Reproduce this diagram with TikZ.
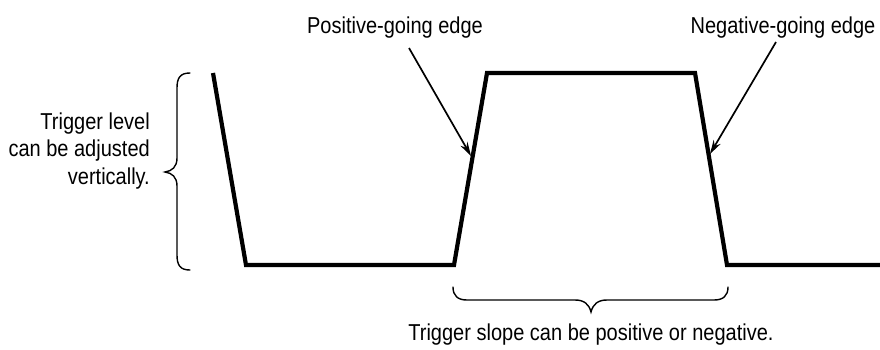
\documentclass[tikz,border=0pt]{standalone}
\usepackage{fontspec}
\setmainfont[FakeStretch=0.87]{Liberation Sans}
\usetikzlibrary{arrows.meta}
\begin{document}
\begin{tikzpicture}[x=1pt,y=-1pt,
  wave/.style={line width=4.2pt,line join=miter,line cap=butt},
  pointer/.style={line width=1.7pt,-{Stealth[length=14pt,width=8pt]}},
  bracepath/.style={line width=1.4pt,line cap=round},
  lbl/.style={inner sep=0pt,font=\fontsize{23}{27.5}\selectfont}]
\useasboundingbox (0,0) rectangle (880,349);
% waveform
\coordinate (w1) at (213,73);
\coordinate (w2) at (246,265);
\coordinate (w3) at (454,265);
\coordinate (w4) at (487,73);
\coordinate (w5) at (695,73);
\coordinate (w6) at (727,265);
\coordinate (w7) at (880,265);
\draw[wave] (w1) -- (w2) -- (w3) -- (w4) -- (w5) -- (w6) -- (w7);
% labels
\node[lbl,anchor=base] (pos) at (395,33) {Positive-going edge};
\node[lbl,anchor=base] (neg) at (783,33) {Negative-going edge};
\node[lbl,anchor=base east,align=right] (lev) at (150,184) {Trigger level\\can be adjusted\\vertically.};
\node[lbl,anchor=base] (slope) at (591,340) {Trigger slope can be positive or negative.};
% pointers
\coordinate (ps) at (409,48);
\coordinate (pe) at (471,156);
\coordinate (ns) at (776,42);
\coordinate (ne) at (710,154);
\draw[pointer] (ps) -- (pe);
\draw[pointer] (ns) -- (ne);
% left brace
\coordinate (lbt) at (190,73);
\coordinate (lbm) at (165,172);
\coordinate (lbb) at (190,270);
\draw[bracepath] (lbt) .. controls (180,73) and (177,78) .. (177,88)
  -- (177,158) .. controls (177,167) and (172,171) .. (lbm)
  .. controls (172,173) and (177,177) .. (177,186)
  -- (177,255) .. controls (177,265) and (180,270) .. (lbb);
% bottom brace
\coordinate (bbl) at (453,287);
\coordinate (bbm) at (591,312);
\coordinate (bbr) at (728,287);
\draw[bracepath] (bbl) .. controls (453,296) and (458,300) .. (467,300)
  -- (575,300) .. controls (584,300) and (589,304) .. (bbm)
  .. controls (593,304) and (598,300) .. (607,300)
  -- (714,300) .. controls (723,300) and (728,296) .. (bbr);
\end{tikzpicture}
\end{document}
